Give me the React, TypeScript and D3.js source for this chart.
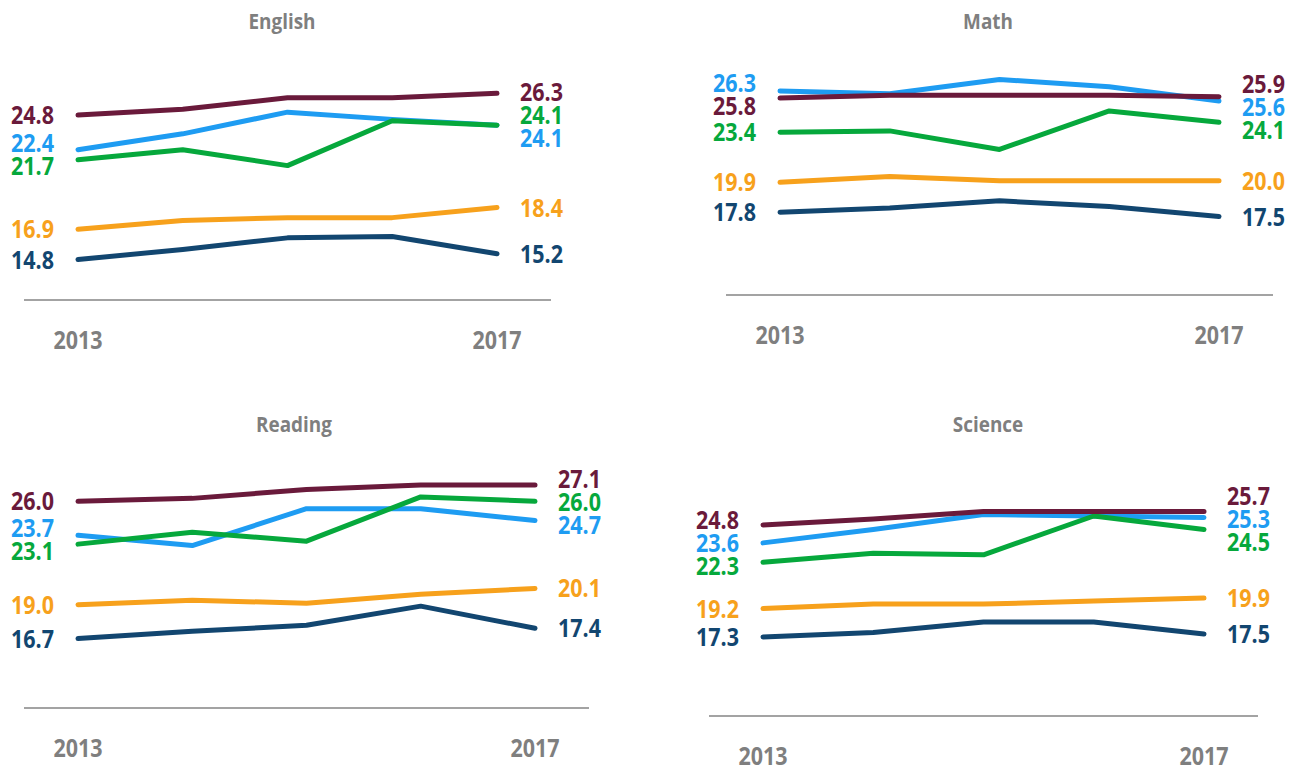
import React, { useEffect, useRef } from "react";
import * as d3 from "d3";

const years = [2013, 2014, 2015, 2016, 2017];
const seriesColors = ["#6a1a3b", "#1e9cf2", "#06a83c", "#f7a11c", "#124670"];
// rows follow seriesColors: maroon, blue, green, orange, navy
const english = [
  [24.8, 25.2, 26.0, 26.0, 26.3],
  [22.4, 23.5, 25.0, 24.5, 24.1],
  [21.7, 22.4, 21.3, 24.4, 24.1],
  [16.9, 17.5, 17.7, 17.7, 18.4],
  [14.8, 15.5, 16.3, 16.4, 15.2],
];
const math = [
  [25.8, 26.0, 26.0, 26.0, 25.9],
  [26.3, 26.1, 27.1, 26.6, 25.6],
  [23.4, 23.5, 22.2, 24.9, 24.1],
  [19.9, 20.3, 20.0, 20.0, 20.0],
  [17.8, 18.1, 18.6, 18.2, 17.5],
];
const reading = [
  [26.0, 26.2, 26.8, 27.1, 27.1],
  [23.7, 23.0, 25.5, 25.5, 24.7],
  [23.1, 23.9, 23.3, 26.3, 26.0],
  [19.0, 19.3, 19.1, 19.7, 20.1],
  [16.7, 17.2, 17.6, 18.9, 17.4],
];
const science = [
  [24.8, 25.2, 25.7, 25.7, 25.7],
  [23.6, 24.5, 25.5, 25.4, 25.3],
  [22.3, 22.9, 22.8, 25.4, 24.5],
  [19.2, 19.5, 19.5, 19.7, 19.9],
  [17.3, 17.6, 18.3, 18.3, 17.5],
];

const panels = [
  { title: "English", data: english, x0: 78, x1: 497, axisY: 300, top: 68.8, titleX: 282, titleY: 29 },
  { title: "Math", data: math, x0: 780, x1: 1219, axisY: 295, top: 66.7, titleX: 988, titleY: 29 },
  { title: "Reading", data: reading, x0: 78, x1: 535, axisY: 708, top: 471.8, titleX: 294, titleY: 432 },
  { title: "Science", data: science, x0: 763, x1: 1204, axisY: 716, top: 477.2, titleX: 988, titleY: 432 },
];

const drawOrder = [4, 3, 1, 2, 0];
const tieRank = [0, 2, 1, 3, 4];
const gray = "#7f7f7f";

function ctext(g: any, x: number, y: number, str: string, anchor: string, size: number, color: string) {
  g.append("text")
    .attr("transform", `translate(${x},${y}) scale(0.86,1)`)
    .attr("text-anchor", anchor)
    .attr("font-family", "'Open Sans', sans-serif")
    .attr("font-weight", 700)
    .attr("font-size", size)
    .attr("fill", color)
    .text(str);
}

// push overlapping labels apart
function spread(items: { y: number; i: number }[], gap: number) {
  items.sort((a, b) => a.y - b.y || tieRank[a.i] - tieRank[b.i]);
  for (let k = 0; k < 300; k++) {
    let moved = false;
    for (let j = 0; j < items.length - 1; j++) {
      const d = items[j + 1].y - items[j].y;
      if (d < gap - 0.01) {
        const s = (gap - d) / 2;
        items[j].y -= s;
        items[j + 1].y += s;
        moved = true;
      }
    }
    if (!moved) break;
  }
  return items;
}

export default function App() {
  const ref = useRef<SVGSVGElement>(null);

  useEffect(() => {
    const svg = d3.select(ref.current);
    svg.selectAll("*").remove();

    panels.forEach((p) => {
      const x = d3.scalePoint<number>().domain(years).range([p.x0, p.x1]);
      const y = d3.scaleLinear().domain([12, 28]).range([p.axisY, p.top]);
      const g = svg.append("g");

      ctext(g, p.titleX, p.titleY, p.title, "middle", 22, gray);

      g.append("line")
        .attr("x1", p.x0 - 54)
        .attr("x2", p.x1 + 54)
        .attr("y1", p.axisY)
        .attr("y2", p.axisY)
        .attr("stroke", "#a3a3a3")
        .attr("stroke-width", 2);

      [years[0], years[years.length - 1]].forEach((yr) => {
        ctext(g, x(yr)!, p.axisY + 49, String(yr), "middle", 25, gray);
      });

      const line = d3
        .line<number>()
        .x((d, i) => x(years[i])!)
        .y((d) => y(d));

      drawOrder.forEach((si) => {
        g.append("path")
          .datum(p.data[si])
          .attr("d", line)
          .attr("fill", "none")
          .attr("stroke", seriesColors[si])
          .attr("stroke-width", 5)
          .attr("stroke-linecap", "round")
          .attr("stroke-linejoin", "round");
      });

      const left = spread(p.data.map((row, i) => ({ y: y(row[0]), i })), 23);
      left.forEach((l) => {
        ctext(g, p.x0 - 24, l.y + 9, d3.format(".1f")(p.data[l.i][0]), "end", 25, seriesColors[l.i]);
      });
      const last = years.length - 1;
      const right = spread(p.data.map((row, i) => ({ y: y(row[last]), i })), 23);
      right.forEach((l) => {
        ctext(g, p.x1 + 23, l.y + 9, d3.format(".1f")(p.data[l.i][last]), "start", 25, seriesColors[l.i]);
      });
    });
  }, []);

  return (
    <div style={{ position: "absolute", left: 0, top: 0 }}>
      <svg ref={ref} width={1299} height={768} style={{ display: "block", background: "#fff" }} />
    </div>
  );
}
